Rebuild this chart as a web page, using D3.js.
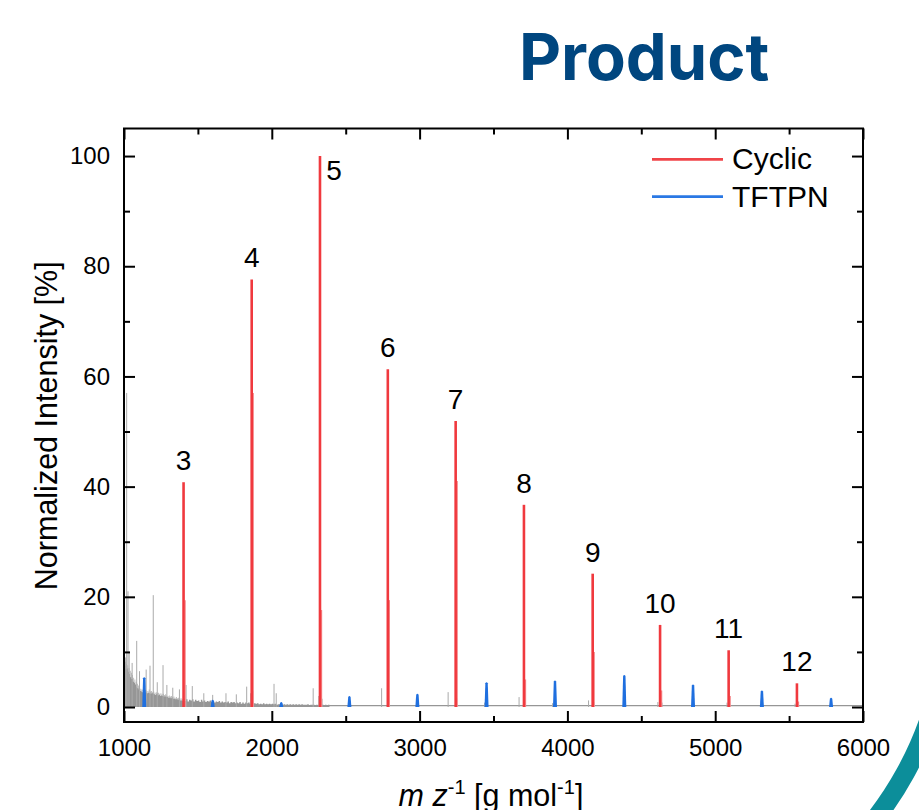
<!DOCTYPE html>
<html lang="en">
<head>
    <meta charset="UTF-8">
    <title>Product - Mass Spectrum</title>
    <script src="https://cdnjs.cloudflare.com/ajax/libs/d3/7.8.5/d3.min.js"></script>
    <style>
        body {
            margin: 0;
            background: #ffffff;
        }

        svg {
            display: block;
            font-family: "Liberation Sans", Arial, sans-serif;
        }

        .title {
            font-family: Inter, "Noto Sans", sans-serif;
            font-weight: 700;
            font-size: 65px;
            fill: #00467f;
        }

        .axis text {
            font-size: 24px;
            fill: #000;
        }

        .axis line {
            stroke: #000;
            stroke-width: 2;
        }

        .peak-label {
            font-size: 28px;
            text-anchor: middle;
        }

        .legend text {
            font-size: 30px;
        }

        .axis-title {
            font-size: 30.5px;
        }
    </style>
</head>
<body>
    <svg id="chart" width="919" height="810"></svg>

    <script>
        // Cyclic peaks (red), labelled by repeat number
        const cyclicLabels = ["3", "4", "5", "6", "7", "8", "9", "10", "11", "12"];
        const cyclicMz = [1403, 1864, 2326, 2785, 3244, 3706, 4171, 4627, 5091, 5553];
        const cyclicIntensity = [40.8, 77.6, 100, 61.3, 51.9, 36.7, 24.2, 14.9, 10.3, 4.3];
        const cyclicShoulder = [19.4, 57, 17.6, 19.4, 41, 5, 10, 3, 2, 1];

        // TFTPN peaks (blue)
        const tftpnMz = [1137, 1600, 2064, 2525, 2985, 3453, 3916, 4385, 4850, 5316, 5784];
        const tftpnIntensity = [5.4, 1.3, 0.9, 2.0, 2.4, 4.5, 4.8, 5.8, 4.1, 3.0, 1.7];

        // raw spectrum background (grey), 1000-1396 every 4, 1400-2390 every 10
        const greyLowStart = 1000, greyLowStep = 4;
        const greyLow = [
            8.8, 7.5, 8.2, 6.9, 7.8, 7.0, 7.6, 6.4, 7.1, 6.0,
            6.6, 5.4, 6.2, 5.1, 5.8, 4.6, 5.3, 4.4, 5.0, 4.1,
            4.6, 3.6, 4.2, 3.4, 3.9, 3.2, 3.6, 2.9, 3.3, 2.8,
            3.2, 2.7, 3.1, 2.6, 3.0, 2.7, 3.1, 2.6, 3.0, 2.5,
            2.9, 2.6, 3.2, 2.5, 2.8, 2.4, 2.9, 2.5, 2.7, 2.4,
            2.8, 2.3, 2.6, 2.2, 2.7, 2.3, 2.5, 2.1, 2.6, 2.2,
            2.4, 2.0, 2.5, 2.1, 2.3, 2.0, 2.4, 1.9, 2.2, 1.9,
            2.3, 1.8, 2.1, 1.8, 2.0, 1.7, 2.1, 1.7, 1.9, 1.6,
            2.0, 1.6, 1.8, 1.5, 1.9, 1.5, 1.7, 1.4, 1.8, 1.4,
            1.6, 1.3, 1.7, 1.3, 1.5, 1.2, 1.6, 1.2, 1.4, 1.1
        ];
        const greyHighStart = 1400, greyHighStep = 10;
        const greyHigh = [
            1.5, 1.1, 1.4, 1.0, 1.3, 1.2, 1.4, 1.0, 1.3, 1.1,
            1.2, 0.9, 1.3, 1.0, 1.2, 0.9, 1.1, 1.0, 1.2, 0.9,
            1.1, 0.8, 1.0, 0.9, 1.1, 0.8, 1.0, 0.8, 0.9, 0.8,
            1.0, 0.7, 0.9, 0.8, 0.9, 0.7, 0.8, 0.7, 0.9, 0.6,
            0.8, 0.6, 0.8, 0.7, 0.8, 0.6, 0.7, 0.6, 0.7, 0.6,
            0.7, 0.5, 0.6, 0.5, 0.7, 0.5, 0.6, 0.5, 0.6, 0.5,
            0.6, 0.5, 0.6, 0.4, 0.5, 0.5, 0.6, 0.4, 0.5, 0.4,
            0.5, 0.4, 0.5, 0.4, 0.5, 0.4, 0.5, 0.4, 0.5, 0.4,
            0.5, 0.4, 0.4, 0.4, 0.5, 0.3, 0.4, 0.4, 0.4, 0.3,
            0.4, 0.3, 0.4, 0.3, 0.4, 0.3, 0.4, 0.3, 0.4, 0.3
        ];
        const greyBaseline = 0.25;
        const greySpikeMz = [1018, 1027, 1012, 1035, 1055, 1086, 1105, 1150, 1176, 1198, 1225, 1264, 1290, 1330,
            1375, 1420, 1462, 1540, 1600, 1690, 1760, 1830, 1857, 1875, 2015, 2030, 2280, 2318, 2340,
            2743, 2790, 2980, 3193, 3252, 3440, 3673, 3715, 3900, 4143, 4180, 4612, 4640, 5080, 5540];
        const greySpikeInt = [57, 21, 9, 10, 8, 12, 6.5, 6.8, 7.5, 20.3, 4.5, 7.6, 4, 3.5,
            3.2, 4, 3.8, 2.5, 2.2, 2.5, 2.3, 3.7, 2.5, 3.0, 4.2, 2.5, 3.4, 2.0, 1.5,
            3.4, 1.8, 1.0, 2.7, 1.6, 0.8, 1.8, 1.2, 0.7, 1.2, 0.9, 0.9, 0.8, 0.8, 0.6];

        const xTicks = [1000, 2000, 3000, 4000, 5000, 6000];
        const xMinor = [1500, 2500, 3500, 4500, 5500];
        const yTicks = [0, 20, 40, 60, 80, 100];
        const yMinor = [10, 30, 50, 70, 90];
        const legendNames = ["Cyclic", "TFTPN"];

        const red = "#f0393e";
        const blue = "#1f6fdf";
        const grey = "#969696";

        const svg = d3.select("#chart");
        const frame = { left: 124, right: 863, top: 128.5, bottom: 722 };

        const x = d3.scaleLinear().domain([1000, 6000]).range([frame.left, frame.right]);
        const y = d3.scaleLinear().domain([-2.72, 105]).range([frame.bottom, frame.top]);

        // decorative ring in the lower right corner
        svg.append("path")
            .attr("transform", "translate(600,605)")
            .attr("d", d3.arc()({ innerRadius: 339, outerRadius: 358, startAngle: Math.PI * 0.52, endAngle: Math.PI * 0.8 }))
            .attr("fill", "#0c8e9a");

        svg.append("text")
            .attr("class", "title")
            .attr("x", 519)
            .attr("y", 80)
            .text("Product");

        svg.append("clipPath").attr("id", "plot-clip")
            .append("rect")
            .attr("x", frame.left).attr("y", frame.top)
            .attr("width", frame.right - frame.left).attr("height", frame.bottom - frame.top);

        const plot = svg.append("g").attr("clip-path", "url(#plot-clip)");

        // grey raw spectrum
        const greyPoints = greyLow.map((v, i) => [greyLowStart + i * greyLowStep, v])
            .concat(greyHigh.map((v, i) => [greyHighStart + i * greyHighStep, v]));

        plot.append("line")
            .attr("x1", x(1000)).attr("x2", x(6000))
            .attr("y1", y(greyBaseline)).attr("y2", y(greyBaseline))
            .attr("stroke", grey).attr("stroke-width", 1.2);

        plot.append("path")
            .datum(greyPoints)
            .attr("d", d3.area()
                .x(d => x(d[0]))
                .y0(y(0))
                .y1(d => y(d[1]))
                .curve(d3.curveStepAfter))
            .attr("fill", grey);

        plot.append("g")
            .selectAll("line")
            .data(greySpikeMz)
            .join("line")
            .attr("x1", d => x(d)).attr("x2", d => x(d))
            .attr("y1", y(0)).attr("y2", (d, i) => y(greySpikeInt[i]))
            .attr("stroke", "#aaaaaa")
            .attr("stroke-width", 1);

        // TFTPN peaks, slightly tapered
        plot.append("g")
            .selectAll("path")
            .data(tftpnMz)
            .join("path")
            .attr("d", (d, i) => {
                const cx = x(d), top = y(tftpnIntensity[i]), base = y(0);
                return `M${cx - 2},${base}L${cx - 1.2},${top + 1}Q${cx},${top - 1} ${cx + 1.2},${top + 1}L${cx + 2},${base}Z`;
            })
            .attr("fill", blue);

        // Cyclic peaks with their isotope shoulder
        plot.append("g")
            .selectAll("line")
            .data(cyclicMz)
            .join("line")
            .attr("x1", d => x(d) + 1.6).attr("x2", d => x(d) + 1.6)
            .attr("y1", y(0)).attr("y2", (d, i) => y(cyclicShoulder[i]))
            .attr("stroke", "#f58a8c")
            .attr("stroke-width", 1.2);

        plot.append("g")
            .selectAll("line")
            .data(cyclicMz)
            .join("line")
            .attr("x1", d => x(d)).attr("x2", d => x(d))
            .attr("y1", y(0)).attr("y2", (d, i) => y(cyclicIntensity[i]))
            .attr("stroke", red)
            .attr("stroke-width", 2.6);

        svg.append("g")
            .selectAll("text")
            .data(cyclicLabels)
            .join("text")
            .attr("class", "peak-label")
            .attr("x", (d, i) => cyclicIntensity[i] > 95 ? x(cyclicMz[i]) + 14 : x(cyclicMz[i]))
            .attr("y", (d, i) => cyclicIntensity[i] > 95 ? y(cyclicIntensity[i]) + 24 : y(cyclicIntensity[i]) - 12)
            .text(d => d);

        // axes, ticks pointing inward on all four sides
        const addAxis = (axis, transform, cls) => {
            const g = svg.append("g").attr("class", "axis " + cls).attr("transform", transform).call(axis);
            g.select(".domain").remove();
            return g;
        };

        addAxis(d3.axisBottom(x).tickValues(xTicks).tickSize(-11).tickPadding(17).tickFormat(d3.format("d")),
            `translate(0,${frame.bottom})`, "x-axis");
        addAxis(d3.axisBottom(x).tickValues(xMinor).tickSize(-6).tickFormat(""), `translate(0,${frame.bottom})`, "x-minor");
        addAxis(d3.axisTop(x).tickValues(xTicks).tickSize(-11).tickFormat(""), `translate(0,${frame.top})`, "x-top");
        addAxis(d3.axisTop(x).tickValues(xMinor).tickSize(-6).tickFormat(""), `translate(0,${frame.top})`, "x-top-minor");

        addAxis(d3.axisLeft(y).tickValues(yTicks).tickSize(-11).tickPadding(14),
            `translate(${frame.left},0)`, "y-axis");
        addAxis(d3.axisLeft(y).tickValues(yMinor).tickSize(-6).tickFormat(""), `translate(${frame.left},0)`, "y-minor");
        addAxis(d3.axisRight(y).tickValues(yTicks).tickSize(-11).tickFormat(""), `translate(${frame.right},0)`, "y-right");
        addAxis(d3.axisRight(y).tickValues(yMinor).tickSize(-6).tickFormat(""), `translate(${frame.right},0)`, "y-right-minor");

        svg.append("rect")
            .attr("x", frame.left).attr("y", frame.top)
            .attr("width", frame.right - frame.left).attr("height", frame.bottom - frame.top)
            .attr("fill", "none").attr("stroke", "#000").attr("stroke-width", 2);

        // axis titles
        svg.append("text")
            .attr("class", "axis-title")
            .attr("transform", `translate(57,${(frame.top + frame.bottom) / 2 + 0.5}) rotate(-90)`)
            .attr("text-anchor", "middle")
            .text("Normalized Intensity [%]");

        const xTitle = svg.append("text")
            .attr("class", "axis-title")
            .attr("x", 491)
            .attr("y", 806)
            .attr("text-anchor", "middle");
        xTitle.append("tspan").attr("font-style", "italic").text("m");
        xTitle.append("tspan").text(" ");
        xTitle.append("tspan").attr("font-style", "italic").text("z");
        xTitle.append("tspan").attr("font-size", "20px").attr("dy", -12).text("-1");
        xTitle.append("tspan").attr("dy", 12).text(" [g mol");
        xTitle.append("tspan").attr("font-size", "20px").attr("dy", -12).text("-1");
        xTitle.append("tspan").attr("dy", 12).text("]");

        // legend
        const legend = svg.append("g").attr("class", "legend");
        const legendItems = legend.selectAll("g")
            .data(legendNames)
            .join("g")
            .attr("transform", (d, i) => `translate(0,${159.3 + i * 37.4})`);
        legendItems.append("line")
            .attr("x1", 652).attr("x2", 723)
            .attr("stroke", (d, i) => i === 0 ? "#f04448" : "#2a78e4")
            .attr("stroke-width", 2.8);
        legendItems.append("text")
            .attr("x", 732)
            .attr("y", 10)
            .text(d => d);
    </script>
</body>
</html>
